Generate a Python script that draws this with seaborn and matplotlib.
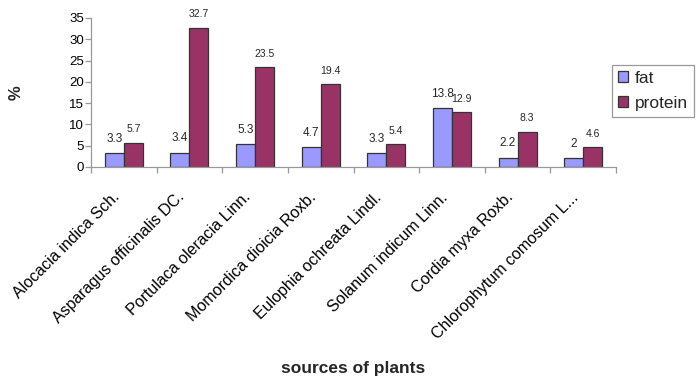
import pandas as pd
import matplotlib
matplotlib.use("Agg")
import matplotlib.pyplot as plt
import matplotlib.transforms as mtransforms
from matplotlib.patches import Patch
import seaborn as sns

# Plant sources and their fat / protein content (%)
plants = [
    "Alocacia indica Sch.",
    "Asparagus officinalis DC.",
    "Portulaca oleracia Linn.",
    "Momordica dioicia Roxb.",
    "Eulophia ochreata Lindl.",
    "Solanum indicum Linn.",
    "Cordia myxa Roxb.",
    "Chlorophytum comosum L...",
]
fat = [3.3, 3.4, 5.3, 4.7, 3.3, 13.8, 2.2, 2]
protein = [5.7, 32.7, 23.5, 19.4, 5.4, 12.9, 8.3, 4.6]
series = ["fat", "protein"]
colors = ["#9999FF", "#993366"]
y_ticks = [0, 5, 10, 15, 20, 25, 30, 35]

df = pd.DataFrame({"plant": plants, "fat": fat, "protein": protein})
df_long = df.melt(id_vars="plant", var_name="nutrient", value_name="percent")

sns.set_style("white")
plt.rcParams["font.family"] = ["Liberation Sans", "DejaVu Sans"]

fig = plt.figure(figsize=(7, 3.84), dpi=100)
ax = fig.add_axes([91 / 700, 1 - 167 / 384, 525 / 700, 149 / 384])

sns.barplot(
    data=df_long, x="plant", y="percent", hue="nutrient",
    hue_order=series, palette=colors, width=0.58, gap=0,
    edgecolor="#333333", linewidth=0.9, saturation=1, legend=False, ax=ax,
)

# value labels: fat slightly larger than protein, as in the original
for cont, vals, fs in zip(ax.containers, [fat, protein], [8.5, 7.5]):
    ax.bar_label(cont, labels=[f"{v:g}" for v in vals], padding=6, fontsize=fs)

ax.set_ylim(0, 35)
ax.set_yticks(y_ticks)
ax.set_xlim(-0.5, len(plants) - 0.5)

for side in ["top", "right"]:
    ax.spines[side].set_visible(False)
for side in ["left", "bottom"]:
    ax.spines[side].set_color("#999999")
    ax.spines[side].set_linewidth(0.9)

ax.tick_params(axis="y", which="major", left=True, length=4, width=0.9,
               color="#999999", labelsize=9.5, pad=1, labelcolor="black")
ax.tick_params(axis="x", which="major", bottom=True, length=0, pad=20,
               labelsize=11.5, labelcolor="black")
ax.set_xticks([i - 0.5 for i in range(len(plants) + 1)], minor=True)
ax.tick_params(axis="x", which="minor", bottom=True, length=4, width=0.9,
               color="#999999")

offset = mtransforms.ScaledTranslation(-7 / 100, 0, fig.dpi_scale_trans)
for lbl in ax.get_xticklabels():
    lbl.set_rotation(45)
    lbl.set_ha("right")
    lbl.set_va("center")
    lbl.set_rotation_mode("anchor")
    lbl.set_transform(lbl.get_transform() + offset)

ax.set_ylabel("%", fontsize=12, fontweight="bold")
ax.yaxis.set_label_coords(-0.128, 0.5)
ax.set_xlabel("sources of plants", fontsize=12.5, fontweight="bold")
ax.xaxis.set_label_coords(0.5, -1.30)

handles = [Patch(facecolor=c, edgecolor="#333333", linewidth=0.9) for c in colors]
leg = ax.legend(
    handles, series, loc="upper left",
    bbox_to_anchor=(612 / 700, 1 - 65 / 384), bbox_transform=fig.transFigure,
    borderaxespad=0, fontsize=12.5, frameon=True, fancybox=False,
    edgecolor="#999999", framealpha=1, borderpad=0.35, labelspacing=0.55,
    handlelength=0.6, handleheight=0.6, handletextpad=0.35,
)
leg.get_frame().set_linewidth(0.9)

fig.savefig("out.png", dpi=100)
